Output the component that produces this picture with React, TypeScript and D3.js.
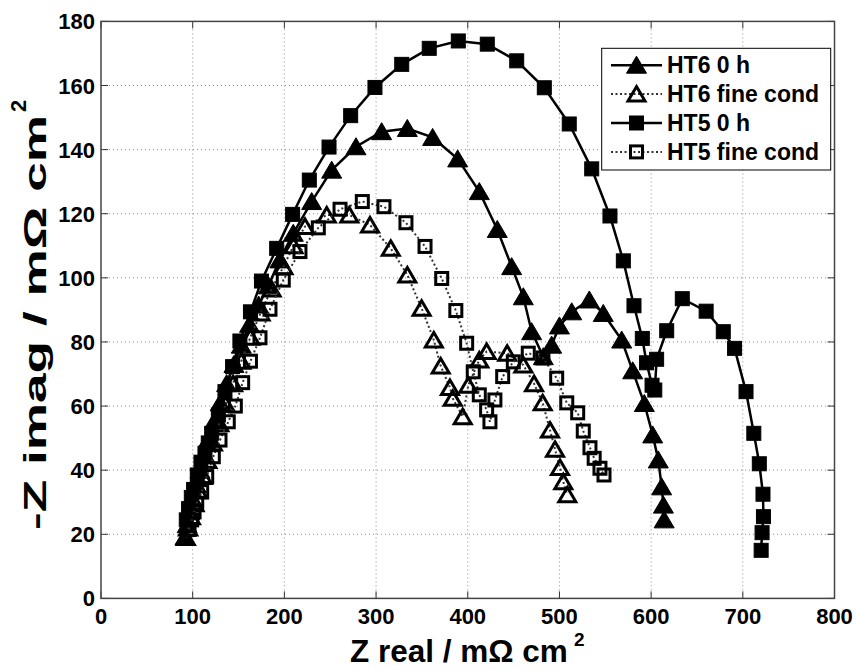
import React from 'react';
import * as d3 from 'd3';

// Nyquist data: [Z real, -Z imag] in mOhm cm2
const ht6ZeroH = [
  [91.6, 19.2], [94, 23], [97, 27], [100, 31], [104, 35.5], [108, 40], [113, 45], [118, 50],
  [124, 55.5], [130, 61], [137, 67], [145, 73], [153, 79], [162, 85.5], [172, 91.5], [182.5, 97.5],
  [195, 105.6], [209.7, 113.9], [229.8, 123.8], [251.6, 133.6], [278.1, 140.9], [306.1, 145.6],
  [334.1, 146.6], [361.7, 143.8], [389, 137.1], [412.6, 126.9], [432.2, 115.1], [447.9, 103.5],
  [460.6, 94.1], [469.7, 83.2], [482.4, 75.4], [491.5, 79], [500, 85], [513.4, 89.4], [532.6, 93.1],
  [547.8, 88.9], [567.9, 80.6], [579.9, 71], [592.6, 60.8], [601.7, 51], [607.8, 43.2],
  [611.5, 34.8], [613.4, 29.1], [614.2, 24.5],
];

const ht6FineCond = [
  [92.5, 19], [95, 22], [98, 25.5], [102, 29.5], [106, 33.5], [111, 38], [116, 43], [122, 48.5],
  [129, 54.5], [136, 60.5], [144, 67], [153, 74], [163, 81.5], [174, 89], [186, 96.5], [199, 103.5],
  [210, 110], [222.5, 116], [246.2, 119.6], [270.8, 119.6], [293.4, 116.5], [316, 109.2],
  [334.1, 100.9], [349.7, 90.5], [363, 80.6], [370.5, 72.5], [380.6, 65.8], [383.6, 62.4],
  [394.5, 56.7], [400.6, 66.5], [412.6, 74.4], [420.6, 77], [443, 76.5], [460.6, 72.8],
  [472.3, 67], [481.7, 61], [489.7, 52.5], [495.2, 46.5], [500.6, 40.8], [504.2, 36.4], [508.6, 32.3],
];

const ht5ZeroH = [
  [93, 24.5], [95.5, 28], [98.5, 31.5], [101, 34], [105, 38.5], [109, 42.5], [113.4, 45.3],
  [117, 48.5], [120.7, 51.5], [128, 57.2], [135.2, 64.5], [143.5, 72.3], [151.5, 80.3], [163, 89.4],
  [175, 99], [191.6, 109.2], [209, 119.8], [227.2, 130.5], [248.7, 140.8], [272.3, 150.6],
  [298.8, 159.4], [328, 166.6], [358, 171.6], [389.7, 173.9], [421.3, 172.9], [453.4, 167.7],
  [483.5, 159.3], [510.7, 148], [535.2, 134], [555.1, 119.3], [569.7, 105.3], [581.3, 91.3],
  [590.4, 81.1], [595, 73.5], [601, 66.5], [604, 65], [606, 74.6], [617, 83.5], [634, 93.5],
  [660, 89.6], [678.7, 83.2], [691, 78], [703.5, 64.5], [712, 51.5], [718, 42], [722, 32.5],
  [722.5, 25.5], [721, 20.5], [720, 15],
];

const ht5FineCond = [
  [96, 21.5], [98.9, 24.5], [101.5, 27], [104.4, 29.7], [109.8, 33.3], [115.3, 38], [122.5, 44.2],
  [129.8, 49.4], [138.8, 55.1], [146.5, 60], [154.5, 67.3], [163, 74], [173.4, 81.3], [184.3, 90.2],
  [198.8, 99.3], [217, 108.2], [237, 115.6], [260.7, 121.4], [285, 123.8], [308.6, 122.2],
  [332.6, 117.2], [353.4, 109.8], [371.6, 99.8], [387, 89.8], [398.8, 79.6], [406, 70.7],
  [412.6, 63.5], [420.6, 58.8], [424.2, 55.1], [429.6, 61.9], [438.1, 69.2], [449.7, 73.8],
  [466, 76.5], [482, 75], [497, 68.7], [508, 61], [519.9, 57.9], [526, 52.2], [533.3, 47],
  [537.9, 43.7], [544.2, 40.6], [548.6, 38.5],
];

const xTicks = [0, 100, 200, 300, 400, 500, 600, 700, 800];
const yTicks = [0, 20, 40, 60, 80, 100, 120, 140, 160, 180];

const seriesList = [
  { name: 'HT6 0 h', data: ht6ZeroH, marker: 'tri', filled: true, dotted: false },
  { name: 'HT6 fine cond', data: ht6FineCond, marker: 'tri', filled: false, dotted: true },
  { name: 'HT5 0 h', data: ht5ZeroH, marker: 'sq', filled: true, dotted: false },
  { name: 'HT5 fine cond', data: ht5FineCond, marker: 'sq', filled: false, dotted: true },
];

const FONT = '"Liberation Sans", Arial, Helvetica, sans-serif';

const W = 856;
const H = 671;
const left = 101;
const right = 834.5;
const top = 21.4;
const bottom = 598.4;

const Marker = ({ kind, filled, cx, cy }) => {
  if (kind === 'tri') {
    const d = filled
      ? `M${cx},${cy - 9}L${cx + 10},${cy + 8}L${cx - 10},${cy + 8}Z`
      : `M${cx},${cy - 7.5}L${cx + 8.5},${cy + 7}L${cx - 8.5},${cy + 7}Z`;
    return (
      <path d={d} fill={filled ? '#000' : 'none'} stroke="#000"
        strokeWidth={filled ? 1 : 3} strokeLinejoin="miter" />
    );
  }
  const s = filled ? 14 : 12;
  return (
    <rect x={cx - s / 2} y={cy - s / 2} width={s} height={s}
      fill={filled ? '#000' : 'none'} stroke="#000" strokeWidth={filled ? 1 : 3} />
  );
};

const App = () => {
  const x = d3.scaleLinear().domain([0, 800]).range([left, right]);
  const y = d3.scaleLinear().domain([0, 180]).range([bottom, top]);
  const line = d3.line().x(d => x(d[0])).y(d => y(d[1]));

  const legX = 601.7;
  const legY = 48.3;
  const legW = 229;
  const legH = 121.7;

  return (
    <svg width={W} height={H} style={{ position: 'absolute', left: 0, top: 0, background: '#fff' }}
      fontFamily={FONT} fontWeight="bold">
      <rect x={0} y={0} width={W} height={H} fill="#fff" />

      {/* grid */}
      {xTicks.slice(1, -1).map(t => (
        <line key={'gx' + t} x1={x(t)} x2={x(t)} y1={top} y2={bottom}
          stroke="#8a8a8a" strokeWidth={1} strokeDasharray="1,3" />
      ))}
      {yTicks.slice(1, -1).map(t => (
        <line key={'gy' + t} x1={left} x2={right} y1={y(t)} y2={y(t)}
          stroke="#8a8a8a" strokeWidth={1} strokeDasharray="1,3" />
      ))}

      {/* ticks on all four sides, pointing inward */}
      {xTicks.map(t => (
        <g key={'tx' + t} stroke="#333" strokeWidth={1}>
          <line x1={x(t)} x2={x(t)} y1={bottom} y2={bottom - 7} />
          <line x1={x(t)} x2={x(t)} y1={top} y2={top + 7} />
        </g>
      ))}
      {yTicks.map(t => (
        <g key={'ty' + t} stroke="#333" strokeWidth={1}>
          <line x1={left} x2={left + 7} y1={y(t)} y2={y(t)} />
          <line x1={right} x2={right - 7} y1={y(t)} y2={y(t)} />
        </g>
      ))}

      {/* series */}
      {seriesList.map(s => (
        <g key={s.name}>
          <path d={line(s.data)} fill="none" stroke={s.dotted ? '#333' : '#000'}
            strokeWidth={s.dotted ? 2 : 2.5} strokeDasharray={s.dotted ? '2,2.5' : null} />
          {s.data.map((d, i) => (
            <Marker key={i} kind={s.marker} filled={s.filled} cx={x(d[0])} cy={y(d[1])} />
          ))}
        </g>
      ))}

      {/* axes box */}
      <rect x={left} y={top} width={right - left} height={bottom - top}
        fill="none" stroke="#444" strokeWidth={1.5} />

      {/* tick labels */}
      {xTicks.map(t => (
        <text key={'lx' + t} x={x(t)} y={624} textAnchor="middle" fontSize={22} fill="#000">{t}</text>
      ))}
      {yTicks.map(t => (
        <text key={'ly' + t} x={95} y={y(t) + 8} textAnchor="end" fontSize={22} fill="#000">{t}</text>
      ))}

      {/* axis titles */}
      <text x={350} y={662} fontSize={31.5} fill="#000">Z real / mΩ cm</text>
      <text x={574} y={646} fontSize={19} fill="#000">2</text>

      <g transform="translate(46,530) rotate(-90)">
        <text x={0} y={0} fontSize={32} textLength={415} lengthAdjust="spacingAndGlyphs" fill="#000">
          -Z imag / mΩ cm
        </text>
        <text x={418} y={-20} fontSize={22} fill="#000">2</text>
      </g>

      {/* legend */}
      <rect x={legX} y={legY} width={legW} height={legH} fill="#fff" stroke="#000" strokeWidth={1} />
      {seriesList.map((s, i) => {
        const cy = 65.2 + i * 28.9;
        return (
          <g key={'leg' + s.name}>
            <line x1={611} x2={662} y1={cy} y2={cy} stroke={s.dotted ? '#333' : '#000'}
              strokeWidth={s.dotted ? 2 : 2.5} strokeDasharray={s.dotted ? '2,2.5' : null} />
            <Marker kind={s.marker} filled={s.filled} cx={636.5} cy={cy} />
            <text x={667} y={cy + 8} fontSize={23} fill="#000">{s.name}</text>
          </g>
        );
      })}
    </svg>
  );
};

export default App;
